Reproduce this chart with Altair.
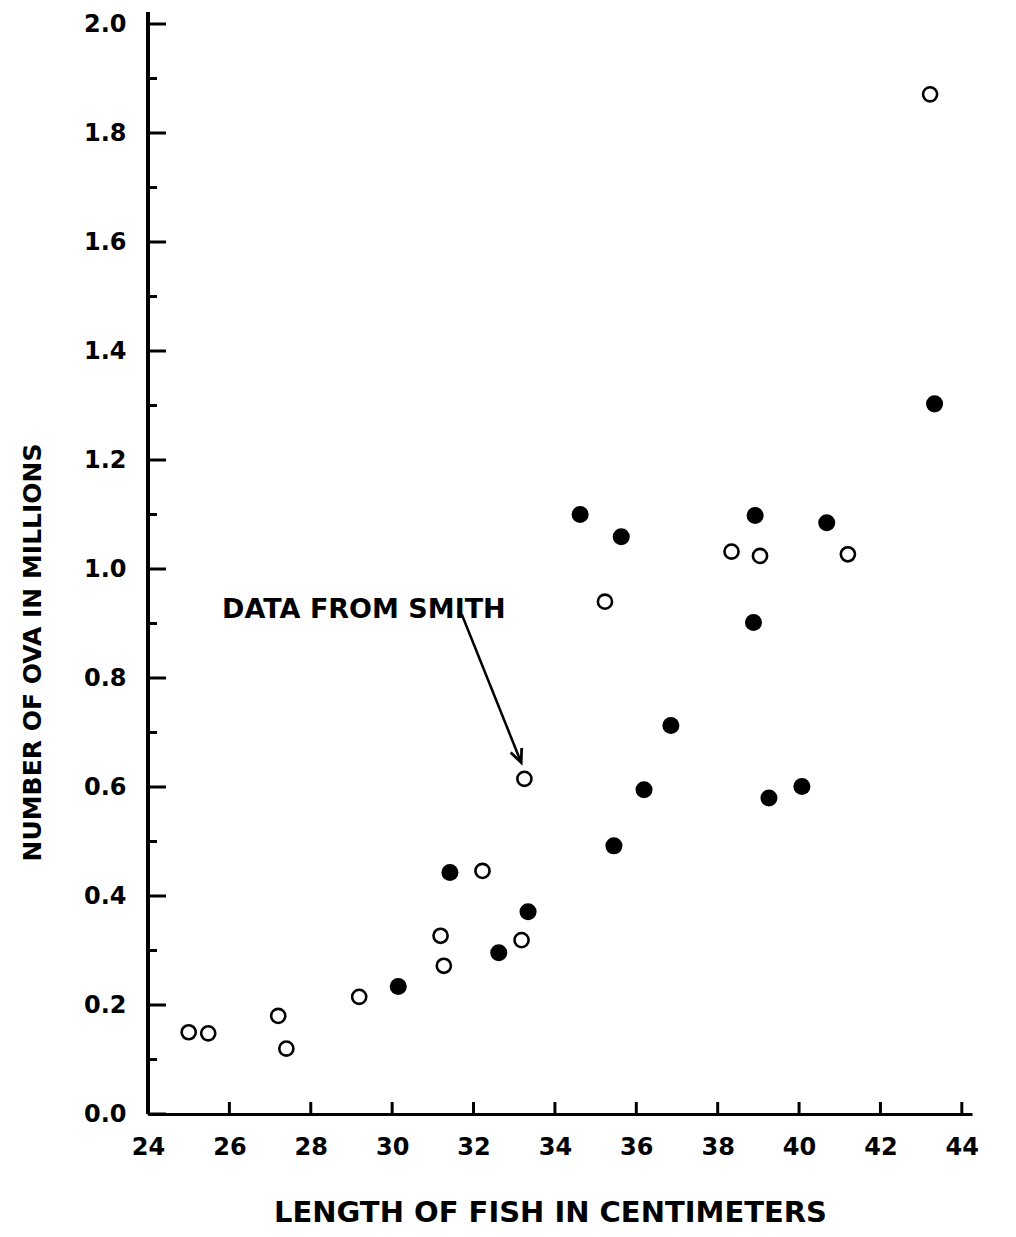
import altair as alt
import pandas as pd

# ---- data ----
open_x = [25.0, 25.48, 27.2, 27.4, 29.19, 31.27, 31.19, 32.22, 33.18, 33.25, 35.23, 38.34, 39.04, 41.2, 43.22]
open_y = [0.15, 0.148, 0.18, 0.12, 0.215, 0.272, 0.327, 0.446, 0.319, 0.615, 0.94, 1.032, 1.024, 1.027, 1.871]
filled_x = [30.15, 31.42, 32.62, 33.34, 34.62, 35.63, 35.45, 36.19, 36.85, 38.92, 38.88, 39.26, 40.07, 40.68, 43.33]
filled_y = [0.234, 0.443, 0.296, 0.371, 1.10, 1.059, 0.492, 0.595, 0.713, 1.098, 0.902, 0.58, 0.601, 1.085, 1.303]

x_ticks = [24, 26, 28, 30, 32, 34, 36, 38, 40, 42, 44]
y_major = [0.0, 0.2, 0.4, 0.6, 0.8, 1.0, 1.2, 1.4, 1.6, 1.8, 2.0]
y_minor = [0.1, 0.3, 0.5, 0.7, 0.9, 1.1, 1.3, 1.5, 1.7, 1.9]

note_text = ["DATA FROM SMITH"]
note_x = [25.82]
note_y = [0.924]
arrow_x = [31.71]
arrow_y = [0.917]
arrow_x2 = [33.17]
arrow_y2 = [0.645]

x_title = "LENGTH OF FISH IN CENTIMETERS"
y_title = "NUMBER OF OVA IN MILLIONS"

FONT = "DejaVu Sans"
W, H = 824, 1090

open_df = pd.DataFrame({"x": open_x, "y": open_y})
filled_df = pd.DataFrame({"x": filled_x, "y": filled_y})
xt_df = pd.DataFrame({"x": x_ticks})
ymaj_df = pd.DataFrame({"y": y_major})
ymin_df = pd.DataFrame({"y": y_minor})
note_df = pd.DataFrame({"x": note_x, "y": note_y, "t": note_text})
arrow_df = pd.DataFrame({"x": arrow_x, "y": arrow_y, "x2": arrow_x2, "y2": arrow_y2})
head_df = pd.DataFrame({"x": arrow_x2, "y": arrow_y2})

x_scale = alt.Scale(domain=[24, 44.25], nice=False, zero=False)
y_scale = alt.Scale(domain=[0, 2.0], nice=False, zero=False)

x_axis = alt.Axis(
    values=x_ticks, format="d", ticks=False, tickSize=0, grid=False,
    domainColor="black", domainWidth=3,
    labelFont=FONT, labelFontSize=24, labelFontWeight="bold", labelColor="black",
    labelPadding=21, labelFlush=False, labelOverlap=False,
    title=x_title, titleFont=FONT, titleFontSize=29, titleFontWeight="bold",
    titleColor="black", titleBaseline="middle", titleX=402, titleY=98,
)
y_axis = alt.Axis(
    values=y_major, format=".1f", ticks=False, tickSize=0, grid=False,
    domainColor="black", domainWidth=3,
    labelFont=FONT, labelFontSize=24, labelFontWeight="bold", labelColor="black",
    labelPadding=22, labelFlush=False, labelOverlap=False,
    title=y_title, titleFont=FONT, titleFontSize=25, titleFontWeight="bold",
    titleColor="black", titleAngle=270, titleBaseline="middle",
    titleX=-116, titleY=628,
)

pts_open = alt.Chart(open_df).mark_point(
    shape="circle", filled=False, size=200, strokeWidth=2.6, color="black", opacity=1
).encode(
    x=alt.X("x:Q", scale=x_scale, axis=x_axis),
    y=alt.Y("y:Q", scale=y_scale, axis=y_axis),
)

pts_filled = alt.Chart(filled_df).mark_point(
    shape="circle", filled=True, size=290, color="black", opacity=1
).encode(
    x=alt.X("x:Q", scale=x_scale),
    y=alt.Y("y:Q", scale=y_scale),
)

# y-axis line continues a little above 2.0, as in the original
y_line = alt.Chart(ymaj_df).mark_rule(color="black", strokeWidth=3).encode(
    x=alt.value(0),
    y=alt.value(-12),
    y2=alt.value(H),
)

xticks = alt.Chart(xt_df).mark_rule(color="black", strokeWidth=3).encode(
    x=alt.X("x:Q", scale=x_scale),
    y=alt.value(H),
    y2=alt.value(H - 12),
)
ymaj = alt.Chart(ymaj_df).mark_rule(color="black", strokeWidth=3).encode(
    y=alt.Y("y:Q", scale=y_scale),
    x=alt.value(0),
    x2=alt.value(18),
)
ymin = alt.Chart(ymin_df).mark_rule(color="black", strokeWidth=3).encode(
    y=alt.Y("y:Q", scale=y_scale),
    x=alt.value(0),
    x2=alt.value(9),
)

note = alt.Chart(note_df).mark_text(
    align="left", baseline="middle", font=FONT, fontSize=27, fontWeight="bold", color="black"
).encode(
    x=alt.X("x:Q", scale=x_scale),
    y=alt.Y("y:Q", scale=y_scale),
    text="t:N",
)

arrow = alt.Chart(arrow_df).mark_rule(color="black", strokeWidth=2.5).encode(
    x=alt.X("x:Q", scale=x_scale),
    y=alt.Y("y:Q", scale=y_scale),
    x2="x2:Q",
    y2="y2:Q",
)

head = alt.Chart(head_df).mark_point(
    shape="M -0.45 -1 L 0 0 L 0.45 -1", filled=False, strokeWidth=2.8,
    size=700, angle=338, color="black", opacity=1
).encode(
    x=alt.X("x:Q", scale=x_scale),
    y=alt.Y("y:Q", scale=y_scale),
)

chart = alt.layer(
    pts_open, pts_filled, y_line, xticks, ymaj, ymin, note, arrow, head
).properties(
    width=W, height=H,
    autosize=alt.AutoSizeParams(type="none"),
    padding={"left": 140, "top": 16, "right": 20, "bottom": 115},
    background="white",
).configure_view(stroke="transparent")

chart.save("out.html", embed_options={"renderer": "svg", "actions": False})
